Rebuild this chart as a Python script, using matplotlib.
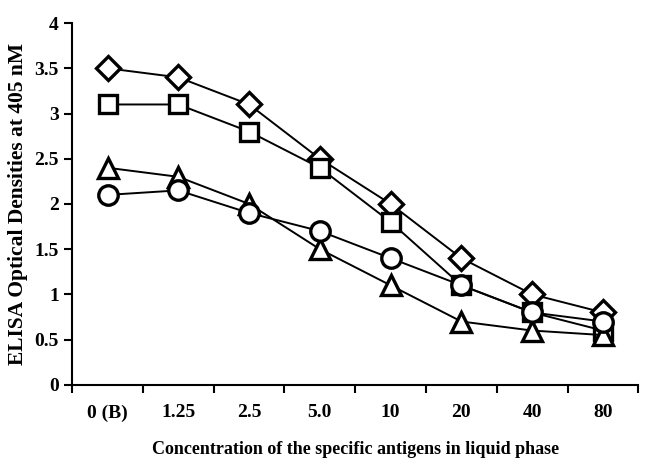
import matplotlib
matplotlib.use("Agg")
import matplotlib.pyplot as plt
import numpy as np

categories = ["0 (B)", "1.25", "2.5", "5.0", "10", "20", "40", "80"]
diamond_vals = [3.5, 3.4, 3.1, 2.5, 2.0, 1.4, 1.0, 0.8]
square_vals = [3.1, 3.1, 2.8, 2.4, 1.8, 1.1, 0.8, 0.6]
triangle_vals = [2.4, 2.3, 2.0, 1.5, 1.1, 0.7, 0.6, 0.55]
circle_vals = [2.1, 2.15, 1.9, 1.7, 1.4, 1.1, 0.8, 0.7]

plt.rcParams["font.family"] = ["Liberation Serif", "DejaVu Serif"]
plt.rcParams["font.weight"] = "bold"

fig = plt.figure(figsize=(6.5, 4.71), dpi=100)
ax = fig.add_axes([0.111, 0.183, 0.871, 0.768])

x = np.arange(len(categories))
series = [(diamond_vals, "D", 12.5), (square_vals, "s", 13.5),
          (triangle_vals, "^", 15), (circle_vals, "o", 14)]
for vals, mk, ms in series:
    ax.plot(x, vals, color="black", lw=1.4, marker=mk, ms=ms,
            mfc="white", mec="black", mew=2.4)

ax.set_xlim(-0.5, 7.5)
ax.set_ylim(0, 4)
ax.set_yticks(np.arange(0, 4.01, 0.5))
ax.set_yticklabels(["0", "0.5", "1", "1.5", "2", "2.5", "3", "3.5", "4"])
ax.set_xticks(np.arange(-0.5, 7.6, 1))
ax.set_xticklabels([])
ax.set_xticks(x, minor=True)
ax.set_xticklabels(categories, minor=True)
ax.tick_params(axis="x", which="minor", length=0, pad=14, labelsize=14)
ax.tick_params(axis="x", which="major", length=6, width=1.5, direction="out")
ax.tick_params(axis="y", length=6, width=1.5, direction="out", labelsize=14)
for lbl in ax.get_xticklabels(minor=True) + ax.get_yticklabels():
    lbl.set_fontweight("bold")

ax.spines["top"].set_visible(False)
ax.spines["right"].set_visible(False)
ax.spines["left"].set_linewidth(1.5)
ax.spines["bottom"].set_linewidth(1.5)

ax.set_ylabel("ELISA Optical Densities at 405 nM", fontsize=15.5, fontweight="bold", labelpad=5)
ax.set_xlabel("Concentration of the specific antigens in liquid phase", fontsize=13,
              fontweight="bold", labelpad=14)

fig.savefig("out.png", dpi=100)
